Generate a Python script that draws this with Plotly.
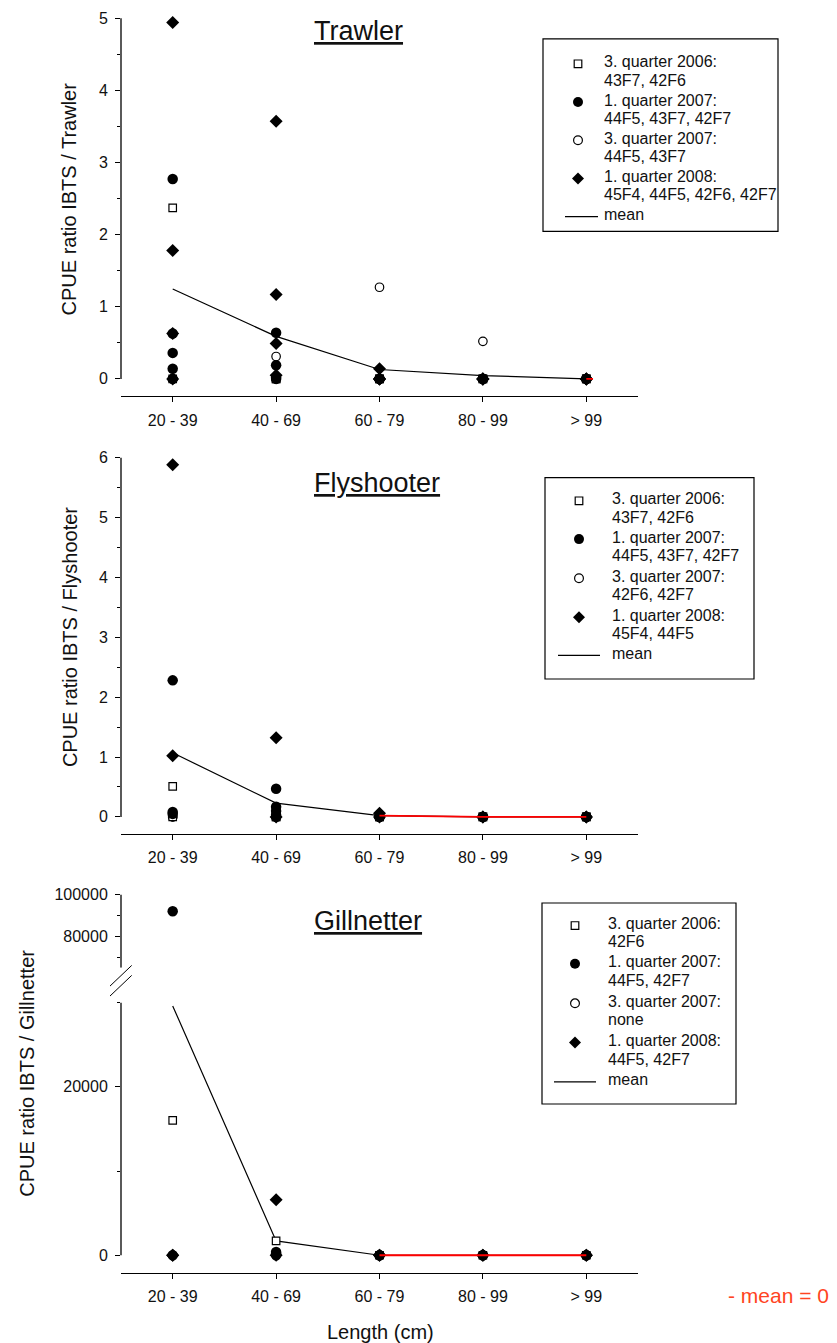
import plotly.graph_objects as go
import numpy as np

W, H = 837, 1343

CATEGORIES = ["20 - 39", "40 - 69", "60 - 79", "80 - 99", "> 99"]

SERIES_NAMES = ["3. quarter 2006:", "1. quarter 2007:", "3. quarter 2007:", "1. quarter 2008:"]

# ---------------- Trawler ----------------
TRAWLER_Q3_2006 = [[2.37, 0], [0, 0], [0, 0], [0, 0], [0, 0]]
TRAWLER_Q1_2007 = [[2.77, 0.63, 0.36, 0.14, 0], [0.64, 0.19, 0.02, 0], [0, 0, 0], [0, 0, 0], [0, 0, 0]]
TRAWLER_Q3_2007 = [[0, 0], [0.31, 0], [1.27, 0], [0.52, 0], [0, 0]]
TRAWLER_Q1_2008 = [[4.94, 1.78, 0.63, 0], [3.57, 1.17, 0.49, 0.05], [0.14, 0, 0, 0], [0, 0, 0, 0], [0, 0, 0, 0]]
TRAWLER_MEAN = [1.245, 0.59, 0.13, 0.046, 0]
TRAWLER_AREAS = ["43F7, 42F6", "44F5, 43F7, 42F7", "44F5, 43F7", "45F4, 44F5, 42F6, 42F7"]

# ---------------- Flyshooter ----------------
FLY_Q3_2006 = [[0.51, 0], [0, 0], [0, 0], [0, 0], [0, 0]]
FLY_Q1_2007 = [[2.28, 0.08, 0.05], [0.47, 0.17, 0.1, 0.03, 0], [0, 0, 0], [0, 0, 0], [0, 0, 0]]
FLY_Q3_2007 = [[0, 0], [0, 0], [0, 0], [0, 0], [0, 0]]
FLY_Q1_2008 = [[5.88, 1.02], [1.32, 0], [0.06, 0], [0, 0], [0, 0]]
FLY_MEAN = [1.07, 0.23, 0.02, 0, 0]
FLY_AREAS = ["43F7, 42F6", "44F5, 43F7, 42F7", "42F6, 42F7", "45F4, 44F5"]

# ---------------- Gillnetter ----------------
GILL_Q3_2006 = [[16000], [1700], [0], [0], [0]]
GILL_Q1_2007 = [[92000, 0], [400, 200, 0], [0, 0], [0, 0], [0, 0]]
GILL_Q3_2007 = [[], [], [], [], []]
GILL_Q1_2008 = [[0, 0], [6600, 0], [0, 0], [0, 0], [0, 0]]
GILL_MEAN = [29600, 1700, 0, 0, 0]
GILL_AREAS = ["42F6", "44F5, 42F7", "none", "44F5, 42F7"]

# first category index where the mean is zero (red "mean = 0" line)
TRAWLER_ZERO_FROM = 4
FLY_ZERO_FROM = 2
GILL_ZERO_FROM = 2

FONT = "Liberation Sans, Arial, sans-serif"
TXT = "#111111"


def px_x(x):
    return x / W


def px_y(y):
    return 1 - y / H


def domain_y(anchor_val, anchor_px, px_per_unit, lo, hi):
    bottom = anchor_px - (lo - anchor_val) * px_per_unit
    top = anchor_px - (hi - anchor_val) * px_per_unit
    return [px_y(bottom), px_y(top)]


# marker styles (draw order: open circle, square, filled circle, diamond)
STYLES = {
    "3. quarter 2007:": dict(symbol="circle", size=8.5, color="white", line=dict(color="black", width=1.2)),
    "3. quarter 2006:": dict(symbol="square", size=7.5, color="white", line=dict(color="black", width=1.2)),
    "1. quarter 2007:": dict(symbol="circle", size=10.5, color="black", line=dict(width=0)),
    "1. quarter 2008:": dict(symbol="diamond", size=10, color="black", line=dict(width=0)),
}


def flatten(groups):
    xs, ys = [], []
    for i, vals in enumerate(groups):
        for v in vals:
            xs.append(i)
            ys.append(v)
    return np.array(xs, dtype=float), np.array(ys, dtype=float)


fig = go.Figure()

X_DOMAIN = [px_x(121), px_x(638)]
X_RANGE = [-0.5, 4.5]

panels = [
    dict(key="1", series={"3. quarter 2006:": TRAWLER_Q3_2006, "1. quarter 2007:": TRAWLER_Q1_2007,
                          "3. quarter 2007:": TRAWLER_Q3_2007, "1. quarter 2008:": TRAWLER_Q1_2008},
         mean=TRAWLER_MEAN, zero_from=TRAWLER_ZERO_FROM),
    dict(key="2", series={"3. quarter 2006:": FLY_Q3_2006, "1. quarter 2007:": FLY_Q1_2007,
                          "3. quarter 2007:": FLY_Q3_2007, "1. quarter 2008:": FLY_Q1_2008},
         mean=FLY_MEAN, zero_from=FLY_ZERO_FROM),
    dict(key="3", series={"3. quarter 2006:": GILL_Q3_2006, "1. quarter 2007:": GILL_Q1_2007,
                          "3. quarter 2007:": GILL_Q3_2007, "1. quarter 2008:": GILL_Q1_2008},
         mean=GILL_MEAN, zero_from=GILL_ZERO_FROM),
]

DRAW_ORDER = ["3. quarter 2007:", "3. quarter 2006:", "1. quarter 2007:", "1. quarter 2008:"]
GILL_LOWER_MAX = 30000
GILL_UPPER_MIN = 64800
RED_STUB = 0.065

for p in panels:
    k = p["key"]
    xa = "x" + ("" if k == "1" else k)
    ya = "y" + ("" if k == "1" else k)
    # mean line
    fig.add_trace(go.Scatter(x=list(range(len(CATEGORIES))), y=p["mean"], mode="lines",
                             line=dict(color="black", width=1.2), xaxis=xa, yaxis=ya,
                             showlegend=False, hoverinfo="skip"))
    for name in DRAW_ORDER:
        xs, ys = flatten(p["series"][name])
        st = STYLES[name]
        mk = dict(symbol=st["symbol"], size=st["size"], color=st["color"], line=st["line"])
        if k == "3":
            low = ys <= GILL_LOWER_MAX
            fig.add_trace(go.Scatter(x=xs[low], y=ys[low], mode="markers", marker=mk, xaxis=xa, yaxis=ya,
                                     cliponaxis=False, showlegend=False, name=name))
            up = ys >= GILL_UPPER_MIN
            fig.add_trace(go.Scatter(x=xs[up], y=ys[up], mode="markers", marker=mk, xaxis=xa, yaxis="y4",
                                     cliponaxis=False, showlegend=False, name=name))
        else:
            fig.add_trace(go.Scatter(x=xs, y=ys, mode="markers", marker=mk, xaxis=xa, yaxis=ya,
                                     cliponaxis=False, showlegend=False, name=name))
    # red zero-mean line
    zf = p["zero_from"]
    rx = list(range(zf, len(CATEGORIES)))
    ry = list(p["mean"][zf:])
    if len(rx) == 1:
        rx = [rx[0], rx[0] + RED_STUB]
        ry = [ry[0], ry[0]]
    fig.add_trace(go.Scatter(x=rx, y=ry, mode="lines", line=dict(color="#ff0000", width=1.8),
                             xaxis=xa, yaxis=ya, showlegend=False, hoverinfo="skip", cliponaxis=False))

tickfont = dict(family=FONT, size=16, color=TXT)


def xaxis_cfg(anchor):
    return dict(domain=X_DOMAIN, range=X_RANGE, anchor=anchor, tickmode="array",
                tickvals=list(range(len(CATEGORIES))), ticktext=CATEGORIES, ticks="outside",
                ticklen=5, tickwidth=1, tickcolor="black", showline=True, linecolor="black",
                linewidth=1.3, showgrid=False, zeroline=False, tickfont=tickfont,
                ticklabelstandoff=4, fixedrange=True)


def yaxis_cfg(anchor, domain, rng, tickvals, minorvals):
    return dict(domain=domain, range=rng, anchor=anchor, tickmode="array", tickvals=tickvals,
                ticktext=[str(int(v)) for v in tickvals], ticks="outside", ticklen=5,
                tickwidth=1, tickcolor="black", showline=False, showgrid=False, zeroline=False,
                tickfont=tickfont, ticklabelstandoff=4,
                minor=dict(tickvals=minorvals, ticks="outside", ticklen=3, tickwidth=1,
                           tickcolor="black", showgrid=False),
                fixedrange=True)


fig.update_layout(
    xaxis=xaxis_cfg("y"),
    xaxis2=xaxis_cfg("y2"),
    xaxis3=xaxis_cfg("y3"),
    yaxis=yaxis_cfg("x", domain_y(0, 376, 72.35, -0.24, 5.06), [-0.24, 5.06],
                    [0, 1, 2, 3, 4, 5], [0.5, 1.5, 2.5, 3.5, 4.5]),
    yaxis2=yaxis_cfg("x2", domain_y(0, 815.3, 60.05, -0.283, 6.08), [-0.283, 6.08],
                     [0, 1, 2, 3, 4, 5, 6], [0.5, 1.5, 2.5, 3.5, 4.5, 5.5]),
    yaxis3=yaxis_cfg("x3", domain_y(0, 1255, 84.5 / 10000, -2047, 30000), [-2047, 30000],
                     [0, 20000], [10000, 30000]),
    yaxis4=yaxis_cfg("x3", domain_y(100000, 893.3, 41.7 / 20000, GILL_UPPER_MIN, 104000),
                     [GILL_UPPER_MIN, 104000], [80000, 100000], [70000, 90000]),
)

shapes = []
# y-axis lines spanning only the data range
for xr, yr, y0, y1 in [("x domain", "y", 0, 5), ("x2 domain", "y2", 0, 6),
                       ("x3 domain", "y3", 0, 30000), ("x3 domain", "y4", GILL_UPPER_MIN, 100000)]:
    shapes.append(dict(type="line", xref=xr, yref=yr, x0=0, x1=0, y0=y0, y1=y1,
                       line=dict(color="black", width=1.3)))
# axis break marks
for (xa0, ya0, xa1, ya1) in [(110, 985, 131.7, 964.3), (110, 995, 131.7, 974.3)]:
    shapes.append(dict(type="line", xref="paper", yref="paper", x0=px_x(xa0), y0=px_y(ya0),
                       x1=px_x(xa1), y1=px_y(ya1), line=dict(color="black", width=1)))

annotations = []

# ---- legends ----
LEGENDS = [
    dict(box=(543, 35, 778, 228), mx=578, tx=602, rows=[60, 98.3, 136.7, 175], lsp=18.5,
         mean_y=213.3, line=(565, 598), areas=TRAWLER_AREAS),
    dict(box=(545, 475, 754, 677), mx=579, tx=610, rows=[498.3, 536.7, 576, 615], lsp=18.5,
         mean_y=653.3, line=(558, 600), areas=FLY_AREAS),
    dict(box=(542, 901.7, 736, 1103.3), mx=575, tx=606, rows=[924.3, 962.7, 1002.3, 1041.7], lsp=18.5,
         mean_y=1081, line=(554, 596), areas=GILL_AREAS),
]

LEG_SYMBOLS = {
    "3. quarter 2006:": ("square", 3.8, False),
    "1. quarter 2007:": ("circle", 5.0, True),
    "3. quarter 2007:": ("circle", 4.4, False),
    "1. quarter 2008:": ("diamond", 6.0, True),
}
TEXT_DY = -2

legfont = dict(family=FONT, size=16, color=TXT)
for lg in LEGENDS:
    x0, y0, x1, y1 = lg["box"]
    shapes.append(dict(type="rect", xref="paper", yref="paper", x0=px_x(x0), x1=px_x(x1),
                       y0=px_y(y1), y1=px_y(y0), line=dict(color="black", width=1.2)))
    for name, ry, area in zip(SERIES_NAMES, lg["rows"], lg["areas"]):
        sym, r, filled = LEG_SYMBOLS[name]
        base = dict(xref="paper", yref="paper", xsizemode="pixel", ysizemode="pixel",
                    xanchor=px_x(lg["mx"]), yanchor=px_y(ry),
                    line=dict(color="black", width=1.2 if not filled else 0),
                    fillcolor="black" if filled else "white")
        if sym == "circle":
            shapes.append(dict(type="circle", x0=-r, x1=r, y0=-r, y1=r, **base))
        elif sym == "square":
            shapes.append(dict(type="rect", x0=-r, x1=r, y0=-r, y1=r, **base))
        else:
            shapes.append(dict(type="path", path=f"M 0 {r} L {r} 0 L 0 {-r} L {-r} 0 Z", **base))
        annotations.append(dict(xref="paper", yref="paper", x=px_x(lg["tx"]), y=px_y(ry + TEXT_DY),
                                text=name, showarrow=False, xanchor="left", yanchor="middle", font=legfont))
        annotations.append(dict(xref="paper", yref="paper", x=px_x(lg["tx"]),
                                y=px_y(ry + lg["lsp"] + TEXT_DY),
                                text=area, showarrow=False, xanchor="left", yanchor="middle", font=legfont))
    shapes.append(dict(type="line", xref="paper", yref="paper", x0=px_x(lg["line"][0]),
                       x1=px_x(lg["line"][1]), y0=px_y(lg["mean_y"]), y1=px_y(lg["mean_y"]),
                       line=dict(color="black", width=1.2)))
    annotations.append(dict(xref="paper", yref="paper", x=px_x(lg["tx"]), y=px_y(lg["mean_y"] + TEXT_DY),
                            text="mean", showarrow=False, xanchor="left", yanchor="middle", font=legfont))

# ---- titles ----
for text, cx, cy in [("Trawler", 358, 29.3), ("Flyshooter", 377, 482.5), ("Gillnetter", 368, 921.7)]:
    annotations.append(dict(xref="paper", yref="paper", x=px_x(cx), y=px_y(cy - 2), text=f"<u>{text}</u>",
                            showarrow=False, xanchor="center", yanchor="middle",
                            font=dict(family=FONT, size=27, color=TXT)))

# ---- y-axis titles ----
for text, cx, cy in [("CPUE ratio IBTS / Trawler", 69, 196), ("CPUE ratio IBTS / Flyshooter", 70, 635),
                     ("CPUE ratio IBTS / Gillnetter", 27, 1073)]:
    annotations.append(dict(xref="paper", yref="paper", x=px_x(cx), y=px_y(cy), text=text, textangle=-90,
                            showarrow=False, xanchor="center", yanchor="middle",
                            font=dict(family=FONT, size=20, color=TXT)))

annotations.append(dict(xref="paper", yref="paper", x=px_x(380), y=px_y(1331.7), text="Length (cm)",
                        showarrow=False, xanchor="center", yanchor="middle",
                        font=dict(family=FONT, size=20, color=TXT)))
annotations.append(dict(xref="paper", yref="paper", x=px_x(726), y=px_y(1295), text="- mean = 0",
                        showarrow=False, xanchor="left", yanchor="middle",
                        font=dict(family=FONT, size=21, color="#ff4422")))

fig.update_layout(
    width=W, height=H, margin=dict(l=0, r=0, t=0, b=0),
    paper_bgcolor="white", plot_bgcolor="white", showlegend=False,
    shapes=shapes, annotations=annotations,
)

fig.write_html("out.html", config={"displayModeBar": False},
               post_script="document.body.style.margin='0';document.body.style.overflow='hidden';")
